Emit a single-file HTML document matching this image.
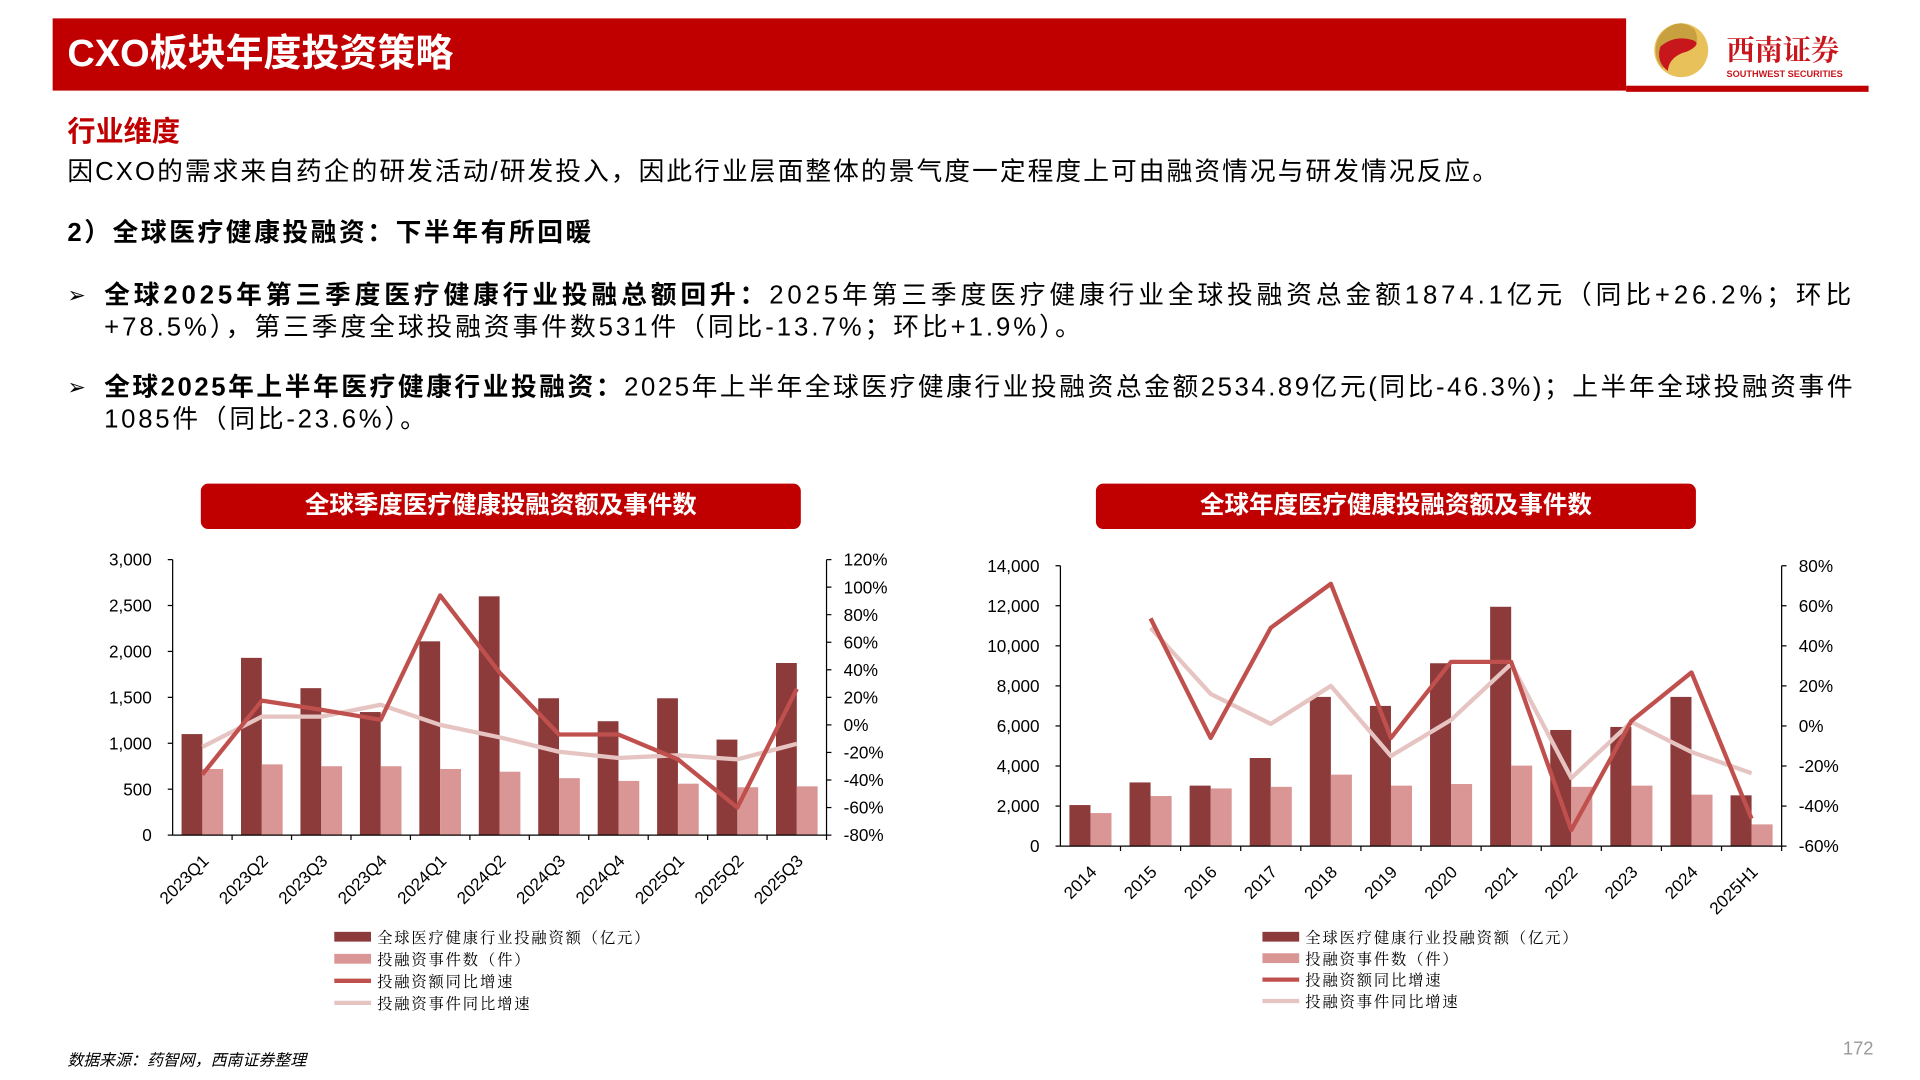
<!DOCTYPE html>
<html><head><meta charset="utf-8">
<style>
html,body{margin:0;padding:0;background:#fff;width:1920px;height:1080px;overflow:hidden}
#stage{position:absolute;left:0;top:0;width:1568px;height:882px;transform:scale(1.22449);transform-origin:0 0;font-family:"Liberation Sans","Noto Sans CJK SC",sans-serif;color:#000}
.abs{position:absolute;white-space:nowrap}
.ttl{position:absolute;background:#c00000;color:#fff;font-weight:bold;font-size:20px;text-align:center;border-radius:6px;line-height:37px}
.fit{position:absolute;white-space:nowrap;font-size:21px;line-height:26px}
</style></head><body>
<div id="stage">
<div class="abs" style="left:43px;top:15px;width:1285px;height:59px;background:#c00000"></div>
<div class="abs" style="left:55px;top:22px;font-size:31px;font-weight:bold;color:#fff;line-height:44px">CXO板块年度投资策略</div>
<div class="abs" style="left:1328px;top:70px;width:198px;height:5px;background:#c00000"></div>
<svg class="abs" style="left:1348px;top:16px" width="180" height="52">
<circle cx="25" cy="25" r="22" fill="#e8c15a"/>
<path d="M25 3 A22 22 0 0 0 10 40 Q15 28 30 26 Q42 22 36 8 A22 22 0 0 0 25 3Z" fill="#c8a040"/>
<path d="M8 22 Q20 12 35 17 Q42 20 30 26 Q15 30 14 42 Q4 34 8 22Z" fill="#c8161d"/>
<text x="62" y="33" font-size="23" font-weight="bold" fill="#c8161d" font-family="Noto Serif CJK SC,serif">西南证券</text>
<text x="62" y="47" font-size="7.5" font-weight="bold" fill="#c8161d">SOUTHWEST SECURITIES</text>
</svg>
<div class="abs" style="left:55px;top:88px;font-size:23px;font-weight:bold;color:#c00000">行业维度</div>
<div class="fit" data-w="1170" style="left:55px;top:128px">因CXO的需求来自药企的研发活动/研发投入，因此行业层面整体的景气度一定程度上可由融资情况与研发情况反应。</div>
<div class="fit" data-w="430" style="left:55px;top:178px;font-weight:bold">2）全球医疗健康投融资：下半年有所回暖</div>
<div class="abs" style="left:55px;top:231px;font-size:18px">➢</div>
<div class="fit" data-w="1430" style="left:85px;top:229px"><b>全球2025年第三季度医疗健康行业投融总额回升：</b>2025年第三季度医疗健康行业全球投融资总金额1874.1亿元（同比+26.2%；环比</div>
<div class="fit" data-w="800" style="left:85px;top:255px">+78.5%），第三季度全球投融资事件数531件（同比-13.7%；环比+1.9%）。</div>
<div class="abs" style="left:55px;top:306px;font-size:18px">➢</div>
<div class="fit" data-w="1430" style="left:85px;top:304px"><b>全球2025年上半年医疗健康行业投融资：</b>2025年上半年全球医疗健康行业投融资总金额2534.89亿元(同比-46.3%)；上半年全球投融资事件</div>
<div class="fit" data-w="265" style="left:85px;top:330px">1085件（同比-23.6%）。</div>
<div class="ttl" style="left:164px;top:395px;width:490px">全球季度医疗健康投融资额及事件数</div>
<div class="ttl" style="left:895px;top:395px;width:490px">全球年度医疗健康投融资额及事件数</div>
<svg id="c1" class="abs" style="left:0;top:440px" width="780" height="400"></svg>
<svg id="c2" class="abs" style="left:780px;top:440px" width="788" height="400"></svg>
<div class="abs" style="left:55px;top:855px;font-size:13px;font-style:italic">数据来源：药智网，西南证券整理</div>
<div class="abs" style="left:1505px;top:848px;font-size:15px;color:#999">172</div>
</div>
<script>
// Quarterly chart data
const qCats=["2023Q1","2023Q2","2023Q3","2023Q4","2024Q1","2024Q2","2024Q3","2024Q4","2025Q1","2025Q2","2025Q3"];
const qAmount=[1100,1930,1600,1340,2110,2600,1490,1240,1490,1040,1874];
const qEvents=[720,770,750,750,720,690,620,590,560,521,531];
const qAmountYoY=[-36,17.6,11,3.7,94,38,-7,-7,-25,-60,26.2];
const qEventYoY=[-16,6,6,14.6,0,-9,-19.5,-24,-22,-25,-13.7];
const qLeftTicks=[0,500,1000,1500,2000,2500,3000];
const qRightTicks=[-80,-60,-40,-20,0,20,40,60,80,100,120];
// Annual chart data
const aCats=["2014","2015","2016","2017","2018","2019","2020","2021","2022","2023","2024","2025H1"];
const aAmount=[2050,3180,3020,4400,7450,7000,9130,11950,5800,5950,7450,2535];
const aEvents=[1650,2500,2880,2960,3570,3020,3100,4020,2960,3020,2570,1085];
const aAmountYoY=[null,53.7,-6,49,71,-6,32,32,-52,2.5,26.7,-46.3];
const aEventYoY=[null,49,16,1,20,-15,3,31,-26,2,-13,-23.6];
const aLeftTicks=[0,2000,4000,6000,8000,10000,12000,14000];
const aRightTicks=[-60,-40,-20,0,20,40,60,80];

// fit text lines to reference widths
document.querySelectorAll('.fit').forEach(el=>{
  const target=+el.getAttribute('data-w');
  const w=el.getBoundingClientRect().width/1.22449;
  const n=el.textContent.length;
  el.style.letterSpacing=((target-w)/n)+'px';
});

const NS="http://www.w3.org/2000/svg";
function mk(svg,tag,attrs,txt){const e=document.createElementNS(NS,tag);for(const k in attrs)e.setAttribute(k,attrs[k]);if(txt!==undefined)e.textContent=txt;svg.appendChild(e);return e;}
function draw(svg,o){
  const {x0,x1,yT,yB,cats,amt,ev,ay,ey,lt,rt,legX,legY,legGap}=o;
  const lmax=lt[lt.length-1],rmin=rt[0],rmax=rt[rt.length-1];
  const yL=v=>yB-(v/lmax)*(yB-yT);
  const yR=v=>yB-(v-rmin)/(rmax-rmin)*(yB-yT);
  const cw=(x1-x0)/cats.length;
  const bw=cw*0.35;
  cats.forEach((c,i)=>{
    const cx=x0+cw*i+cw/2;
    let r=mk(svg,'rect',{x:cx-bw,y:yL(amt[i]),width:bw,height:yB-yL(amt[i]),fill:'#8c3a3a'});
    
    
    r=mk(svg,'rect',{x:cx,y:yL(ev[i]),width:bw,height:yB-yL(ev[i]),fill:'#d99694'});
    
    
    const t=mk(svg,'text',{x:cx+6,y:yB+22,'font-size':14,'text-anchor':'end',transform:`rotate(-45 ${cx+6} ${yB+22})`},c);
    
    
    mk(svg,'line',{x1:x0+cw*(i+1),x2:x0+cw*(i+1),y1:yB,y2:yB+4,stroke:'#000'});
  });
  function line(vals,color,name){
    let d='';vals.forEach((v,i)=>{if(v===null)return;const x=x0+cw*i+cw/2;d+=(d?'L':'M')+x+' '+yR(v);});
    const p=mk(svg,'path',{d:d,fill:'none',stroke:color,'stroke-width':3.5,'stroke-linejoin':'round'});
    
    
  }
  line(ey,'#e6c4c2','events-yoy-line');
  line(ay,'#c0504d','amount-yoy-line');
  mk(svg,'line',{x1:x0,x2:x0,y1:yT,y2:yB,stroke:'#000'});
  mk(svg,'line',{x1:x1,x2:x1,y1:yT,y2:yB,stroke:'#000'});
  mk(svg,'line',{x1:x0,x2:x1,y1:yB,y2:yB,stroke:'#000'});
  lt.forEach(v=>{mk(svg,'line',{x1:x0-4,x2:x0,y1:yL(v),y2:yL(v),stroke:'#000'});
    const t=mk(svg,'text',{x:x0-17,y:yL(v)+5,'font-size':14,'text-anchor':'end'},v.toLocaleString('en-US'));
    
    });
  rt.forEach(v=>{mk(svg,'line',{x1:x1,x2:x1+4,y1:yR(v),y2:yR(v),stroke:'#000'});
    const t=mk(svg,'text',{x:x1+14,y:yR(v)+5,'font-size':14},v+'%');
    
    });
  const leg=[['全球医疗健康行业投融资额（亿元）','#8c3a3a',1],['投融资事件数（件）','#d99694',1],['投融资额同比增速','#c0504d',0],['投融资事件同比增速','#e6c4c2',0]];
  leg.forEach((l,i)=>{const y=legY+i*legGap;
    if(l[2])mk(svg,'rect',{x:legX,y:y-4,width:30,height:8,fill:l[1]});
    else mk(svg,'line',{x1:legX,x2:legX+30,y1:y,y2:y,stroke:l[1],'stroke-width':3.5});
    const t=mk(svg,'text',{x:legX+35,y:y+5,'font-size':12.5,'letter-spacing':'1.5','font-family':'Noto Serif CJK SC,serif'},l[0]);
    
    });
}
draw(document.getElementById('c1'),{x0:141,x1:675,yT:17,yB:242,cats:qCats,amt:qAmount,ev:qEvents,ay:qAmountYoY,ey:qEventYoY,lt:qLeftTicks,rt:qRightTicks,legX:273,legY:325,legGap:18});
draw(document.getElementById('c2'),{x0:86,x1:675,yT:22,yB:251,cats:aCats,amt:aAmount,ev:aEvents,ay:aAmountYoY,ey:aEventYoY,lt:aLeftTicks,rt:aRightTicks,legX:251,legY:325,legGap:17.5});
</script>
</body></html>
